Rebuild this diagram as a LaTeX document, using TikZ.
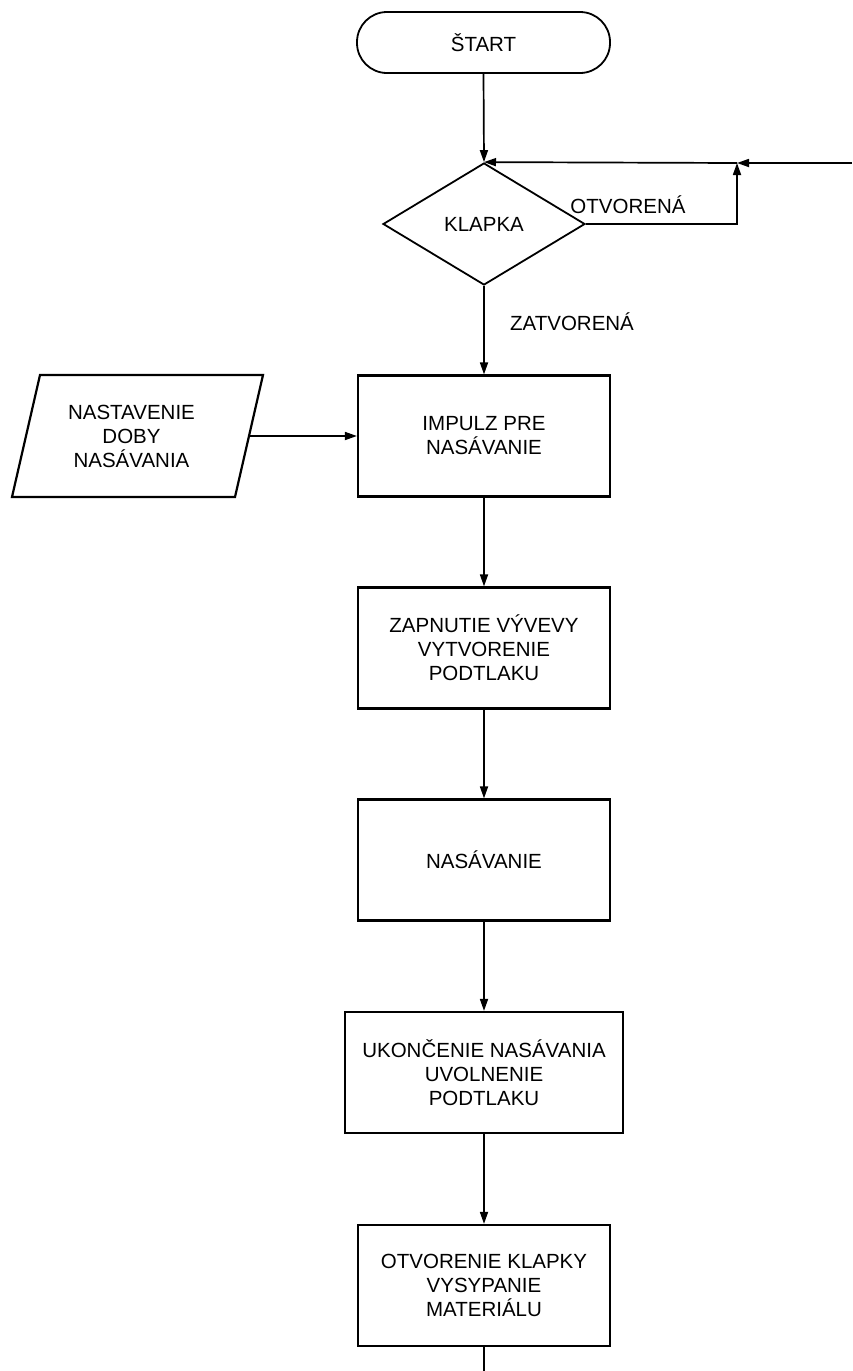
\documentclass[tikz,border=0pt]{standalone}
\usepackage{fontspec}
\setmainfont{Liberation Sans}
\usetikzlibrary{shapes.geometric,arrows.meta}
\begin{document}
\begin{tikzpicture}[x=1pt,y=-1pt,
  every node/.style={font=\fontsize{20.5}{24}\selectfont, text=black},
  box/.style={draw, line width=2.2pt, minimum width=252pt, minimum height=121pt, align=center, inner sep=0pt},
  term/.style={draw, line width=1.8pt, rounded corners=30pt, minimum width=253pt, minimum height=61pt, inner sep=0pt},
  dec/.style={draw, diamond, line width=1.8pt, minimum width=202pt, minimum height=122pt, inner sep=0pt, shape aspect=1.656},
  lbl/.style={inner sep=0pt},
  arr/.style={line width=1.7pt, -{Triangle[length=12pt,width=8pt]}},
  ln/.style={line width=1.7pt}]
\useasboundingbox (0,0) rectangle (852,1371);
\node[term] (start) at (483.5,42.5) {ŠTART};
\node[dec] (klapka) at (484,224) {KLAPKA};
\node[box] (impulz) at (484,436) {IMPULZ PRE\\NASÁVANIE};
\node[box] (zap) at (484,648) {ZAPNUTIE VÝVEVY\\VYTVORENIE\\PODTLAKU};
\node[box] (nas) at (484,860) {NASÁVANIE};
\node[box, minimum width=278pt] (ukon) at (484,1072.5) {UKONČENIE NASÁVANIA\\UVOLNENIE\\PODTLAKU};
\node[box] (otv) at (484,1285.5) {OTVORENIE KLAPKY\\VYSYPANIE\\MATERIÁLU};
% parallelogram input
\coordinate (p1) at (40,375);
\coordinate (p2) at (263,375);
\coordinate (p3) at (235,497);
\coordinate (p4) at (12,497);
\draw[line width=2.2pt, line join=miter] (p1) -- (p2) -- (p3) -- (p4) -- cycle;
\node[lbl, align=center] (nast) at (131.5,436) {NASTAVENIE\\DOBY\\NASÁVANIA};
\coordinate (pout) at (249,436);
% labels
\node[lbl] (lotv) at (628,205) {OTVORENÁ};
\node[lbl] (lzat) at (572,322) {ZATVORENÁ};
% connectors
\coordinate (ktop) at (klapka.north);
\coordinate (j) at (737,163);
\coordinate (jr) at (737,224);
\coordinate (rin) at (852,163);
\coordinate (bend) at (484,1371);
\draw[arr] (start.south) -- (ktop);
\draw[arr] (j) -- (ktop);
\draw[arr] (rin) -- (j);
\draw[arr] (klapka.east) -- (jr) -- (j);
\draw[arr] (klapka.south) -- (impulz.north);
\draw[arr] (pout) -- (impulz.west);
\draw[arr] (impulz.south) -- (zap.north);
\draw[arr] (zap.south) -- (nas.north);
\draw[arr] (nas.south) -- (ukon.north);
\draw[arr] (ukon.south) -- (otv.north);
\draw[ln] (otv.south) -- (bend);
\end{tikzpicture}
\end{document}
